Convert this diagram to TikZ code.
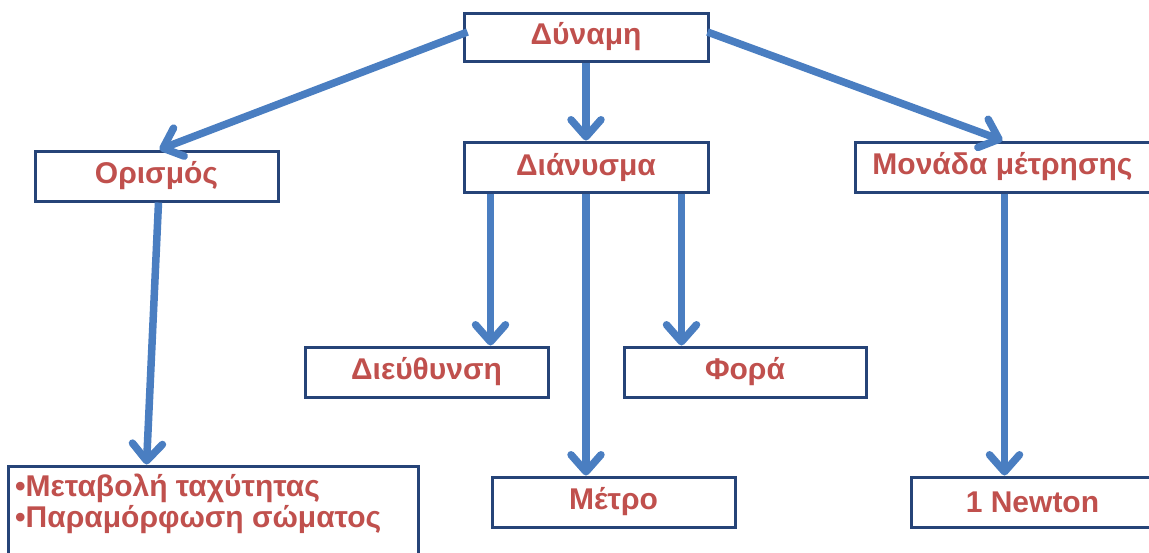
\documentclass[tikz,border=0pt]{standalone}
\usepackage{fontspec}
\setmainfont{Liberation Sans}
\usetikzlibrary{arrows.meta}
\definecolor{boxline}{RGB}{38,68,120}
\definecolor{txtred}{RGB}{192,80,77}
\definecolor{arrblue}{RGB}{74,126,193}
\tikzset{
  box/.style={draw=boxline, line width=3pt, fill=white, inner sep=0pt,
    minimum height=50pt, minimum width=243pt, text=txtred,
    font=\fontsize{30}{32}\selectfont\bfseries},
  arr/.style={draw=arrblue, line width=7.5pt,
    -{Straight Barb[length=17pt,width=30pt,line cap=round,line join=round]}},
  lbl/.style={text=txtred, inner sep=0pt, align=left,
    font=\fontsize{30}{31}\selectfont\bfseries}
}
\begin{document}
\begin{tikzpicture}[x=1pt,y=-1pt]
\useasboundingbox (0,0) rectangle (1149,552);
\node[box, minimum width=244pt, minimum height=48pt] (dyn) at (586,37) {Δύναμη};
\node[box] (ori) at (156.5,176) {Ορισμός};
\node[box, minimum width=244pt] (dia) at (586,167) {Διάνυσμα};
\node[box, minimum width=295pt] (mon) at (1002.5,167) {Μονάδα μέτρησης};
\node[box] (die) at (426.5,372) {Διεύθυνση};
\node[box, minimum width=242pt] (fora) at (745,372) {Φορά};
\node[box] (metro) at (613.5,502) {Μέτρο};
\node[box] (newt) at (1032.5,502) {1 Newton};
\node[box, minimum width=410pt, minimum height=100pt] (lstbox) at (213,516) {};
\node[lbl, anchor=north west] (lst) at (15,474) {•Μεταβολή ταχύτητας\\•Παραμόρφωση σώματος};
\draw[arr] ([xshift=5pt,yshift=5pt]dyn.west) -- ([xshift=3pt]ori.north);
\draw[arr] (dyn.south) -- (dia.north);
\draw[arr] ([xshift=-2pt,yshift=5pt]dyn.east) -- (mon.north);
\draw[arr] ([xshift=2pt]ori.south) -- ([xshift=140pt]lstbox.north west);
\draw[arr] ([xshift=28pt]dia.south west) -- ([xshift=28pt]dia.south west |- die.north);
\draw[arr] (dia.south) -- (dia.south |- metro.north);
\draw[arr] ([xshift=-28pt]dia.south east) -- ([xshift=-28pt]dia.south east |- fora.north);
\draw[arr] ([xshift=2pt]mon.south) -- ([xshift=2pt]mon.south |- newt.north);
\end{tikzpicture}
\end{document}
